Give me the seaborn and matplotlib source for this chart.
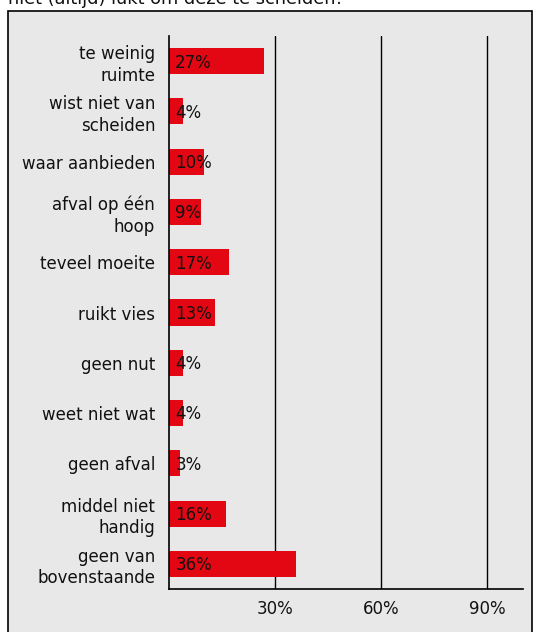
import pandas as pd
import matplotlib
matplotlib.use('Agg')
import matplotlib.pyplot as plt
from matplotlib.patches import Rectangle
import seaborn as sns

# data
categories = ['te weinig\nruimte', 'wist niet van\nscheiden', 'waar aanbieden',
              'afval op één\nhoop', 'teveel moeite', 'ruikt vies', 'geen nut',
              'weet niet wat', 'geen afval', 'middel niet\nhandig',
              'geen van\nbovenstaande']
values = [27, 4, 10, 9, 17, 13, 4, 4, 3, 16, 36]
x_ticks = [30, 60, 90]
x_tick_labels = ['30%', '60%', '90%']
title = 'niet (altijd) lukt om deze te scheiden!'

df = pd.DataFrame({'categorie': categories, 'pct': values})

sns.set_style('white')
plt.rcParams['font.family'] = ['DejaVu Sans']

fig = plt.figure(figsize=(5.42, 6.32), dpi=100)
fig.patch.set_facecolor('white')

# grey panel with black frame behind the chart
panel = Rectangle((8 / 542, -0.05), 524 / 542, 1 - 11 / 632 + 0.05,
                  transform=fig.transFigure, facecolor='#e8e8e8',
                  edgecolor='black', linewidth=1.2, zorder=-10)
fig.patches.append(panel)

fig.text(8 / 542, 1 - 4.5 / 632, title, fontsize=12.8, ha='left', va='baseline',
         color='#111111')

ax = fig.add_axes([169 / 542, 43 / 632, 353.6 / 542, 553 / 632])
ax.patch.set_alpha(0)

sns.barplot(data=df, y='categorie', x='pct', orient='h', color='#e30613',
            saturation=1, width=0.52, linewidth=0, ax=ax)

for i, v in enumerate(df['pct']):
    ax.annotate(f'{v}%', xy=(0, i), xytext=(4.5, -1), textcoords='offset points',
                ha='left', va='center', fontsize=12, color='#111111')

ax.set_xlim(0, 100)
ax.set_ylim(10.5, -0.5)
ax.set_xticks(x_ticks)
ax.set_xticklabels(x_tick_labels)
ax.set_xlabel('')
ax.set_ylabel('')
ax.tick_params(axis='x', length=0, pad=8, labelsize=12, colors='#111111')
ax.tick_params(axis='y', length=0, pad=10, labelsize=12, colors='#111111')
for lbl in ax.get_yticklabels():
    lbl.set_linespacing(1.25)

ax.grid(axis='x', color='black', linewidth=1)
ax.grid(axis='y', visible=False)
ax.set_axisbelow(True)

sns.despine(ax=ax, top=True, right=True)
for side in ['left', 'bottom']:
    ax.spines[side].set_color('black')
    ax.spines[side].set_linewidth(1.2)

fig.savefig('out.png', dpi=100)
